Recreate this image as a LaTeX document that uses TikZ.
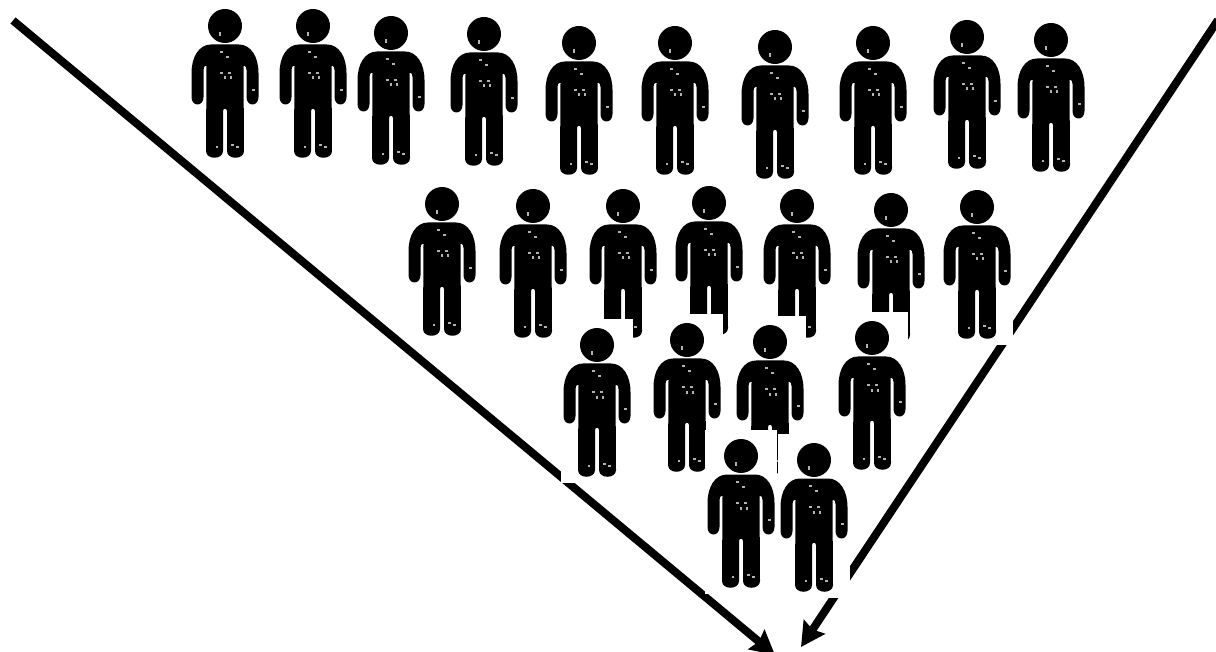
\documentclass[tikz,border=0pt]{standalone}
\usetikzlibrary{arrows.meta}
\tikzset{
  arrowline/.style={line width=8pt,black,-{Stealth[length=24pt,width=25pt,inset=3pt]}},
  spot/.style={fill=white!70!black,draw=none},
  person/.pic={
    \fill[white] (-36,-26) rectangle (36,138);
    \fill[black] (0,0) circle[radius=17];
    \fill[black,line join=round] (0,18.5) -- (-14,18.5)
      .. controls (-26,18.5) and (-33.5,31) .. (-33.5,47)
      -- (-33.5,71) .. controls (-33.5,81) and (-21.5,81) .. (-21.5,71)
      -- (-21.5,44) .. controls (-21.5,41) and (-20.5,40) .. (-19.5,40)
      -- (-18.5,40) -- (-19,125) .. controls (-19,134) and (-2,134) .. (-2,125)
      -- (-2,85) .. controls (-2,82) and (2,82) .. (2,85)
      -- (2,125) .. controls (2,134) and (19,134) .. (19,125)
      -- (18.5,40) -- (19.5,40) .. controls (20.5,40) and (21.5,41) .. (21.5,44)
      -- (21.5,71) .. controls (21.5,81) and (33.5,81) .. (33.5,71)
      -- (33.5,47) .. controls (33.5,31) and (26,18.5) .. (14,18.5) -- cycle;
    \foreach \px/\py/\pw/\ph in {-5/8/2.2/3.5,-4/26/3/2.2,2/31/3/1.4,-3.5/47/3/1.3,4/47/3/1.3,0/52/1.6/3,6/52/2.6/3,28/64/3/2.6,-8/121/2.6/1.6,7/119/3/1.6,12/121/3/1.6}{
      \fill[spot] (\px-\pw/2,\py-\ph/2) rectangle (\px+\pw/2,\py+\ph/2);
    }
  }
}
\begin{document}
\begin{tikzpicture}[x=1pt,y=-1pt]
\useasboundingbox (0,0) rectangle (1216,652);
\clip (0,0) rectangle (1216,652);
\fill[white] (0,0) rectangle (1216,652);
\foreach \hx/\hy in {225/26,313/26,391/33,484/34,579/43,675/43,775/47,873/43,967/37,1051/40}{
  \pic at (\hx,\hy) {person};
}
\coordinate (leftstart) at (13,20.5);
\coordinate (lefttip) at (775,655);
\coordinate (rightstart) at (1218,20);
\coordinate (righttip) at (801,647);
\draw[arrowline] (leftstart) -- (lefttip);
\draw[arrowline] (rightstart) -- (righttip);
\foreach \hx/\hy in {442/204,533/206,623/206,709/203,797/206,891/210,977/207,
  597/345,687/340,770/342,872/338,
  741/456,814/460}{
  \pic at (\hx,\hy) {person};
}
\end{tikzpicture}
\end{document}
